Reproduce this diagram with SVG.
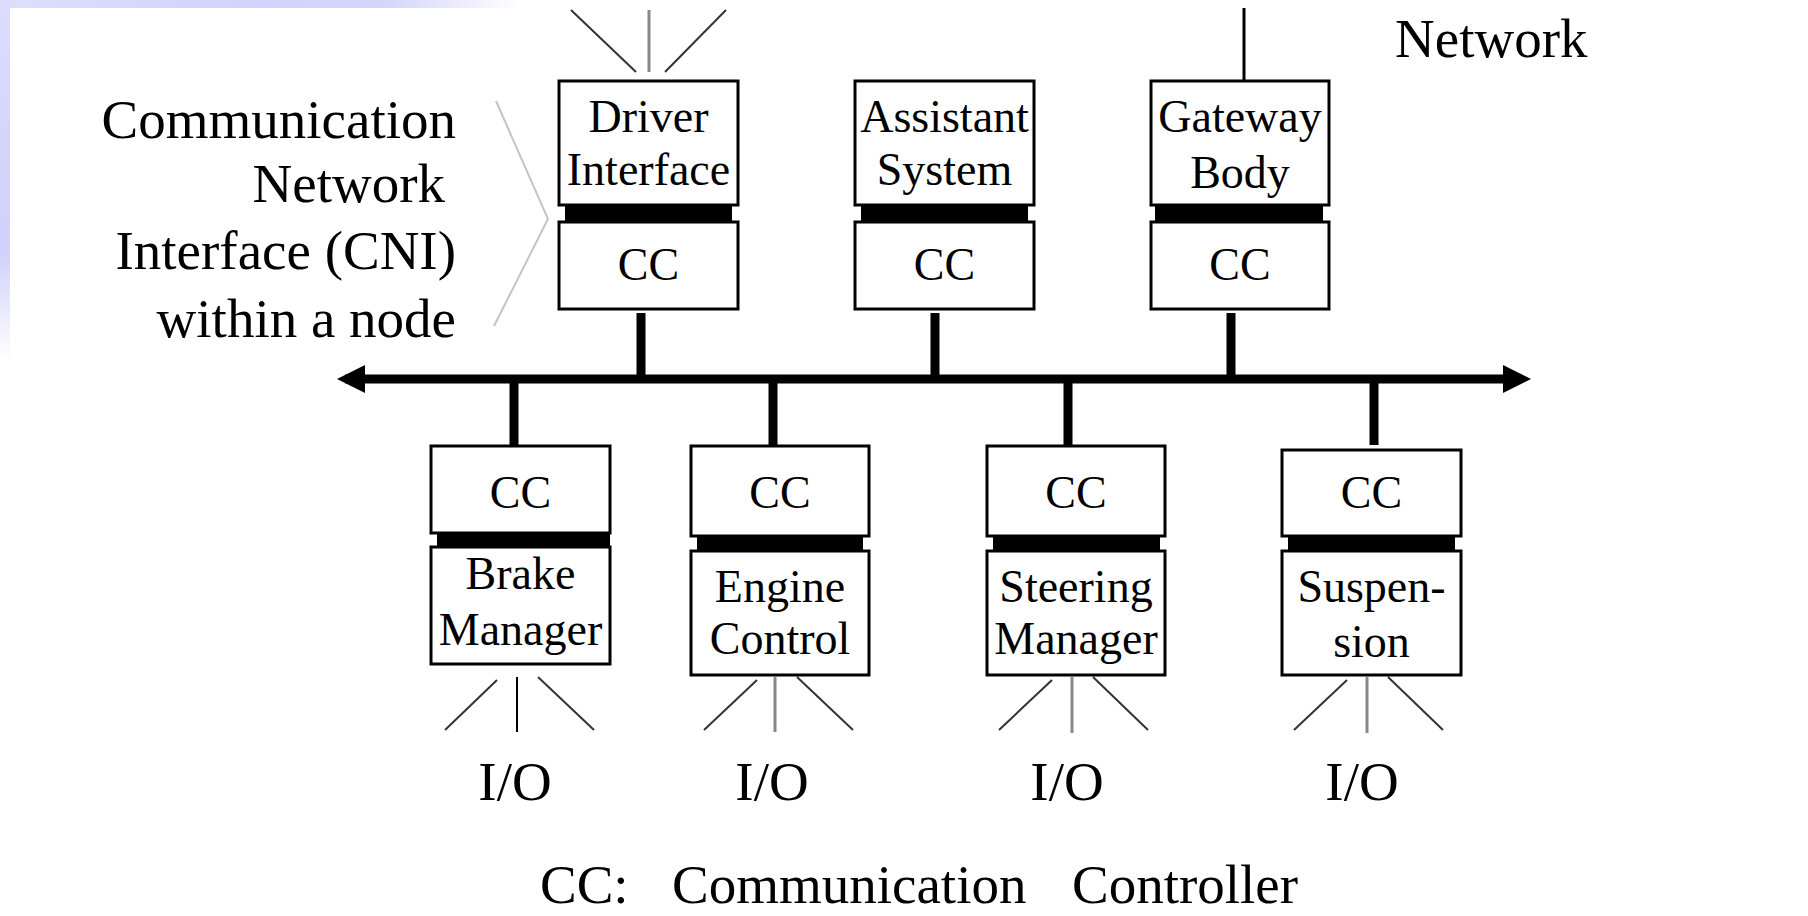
<svg xmlns="http://www.w3.org/2000/svg" width="1808" height="916" viewBox="0 0 1808 916">
<defs>
<linearGradient id="gTop" x1="0" y1="0" x2="1" y2="0">
<stop offset="0" stop-color="#dedefc"/>
<stop offset="0.5" stop-color="#d2d2fc"/>
<stop offset="0.75" stop-color="#d6d6fb"/>
<stop offset="1" stop-color="#ffffff"/>
</linearGradient>
<linearGradient id="gLeft" x1="0" y1="0" x2="0" y2="1">
<stop offset="0" stop-color="#dcdcfc"/>
<stop offset="0.7" stop-color="#d0d0fb"/>
<stop offset="1" stop-color="#ffffff"/>
</linearGradient>
<style>
.box{fill:#fff;stroke:#000;stroke-width:3}
.bar{fill:#000}
.stub{stroke:#000;stroke-width:9}
.t{font-family:"Liberation Serif","Times New Roman",serif;font-size:46px;fill:#000;text-anchor:middle}
.lbl{font-family:"Liberation Serif","Times New Roman",serif;font-size:55px;fill:#000}
.io{stroke:#333;stroke-width:2}
.iom{stroke:#888;stroke-width:3}
</style>
</defs>
<rect x="0" y="0" width="1808" height="916" fill="#fff"/>
<rect x="0" y="0" width="520" height="8" fill="url(#gTop)"/>
<rect x="0" y="0" width="10" height="360" fill="url(#gLeft)"/>

<g id="connectors">
<line x1="345" y1="379" x2="1515" y2="379" stroke="#000" stroke-width="9"/>
<polygon points="337,379 365,365 365,393" fill="#000"/>
<polygon points="1531,379 1503,365 1503,393" fill="#000"/>
<line class="stub" x1="641" y1="313" x2="641" y2="379"/>
<line class="stub" x1="935" y1="313" x2="935" y2="379"/>
<line class="stub" x1="1231" y1="313" x2="1231" y2="379"/>
<line class="stub" x1="514" y1="379" x2="514" y2="447"/>
<line class="stub" x1="773" y1="379" x2="773" y2="447"/>
<line class="stub" x1="1068" y1="379" x2="1068" y2="447"/>
<line class="stub" x1="1374" y1="379" x2="1374" y2="445"/>
<line x1="1244" y1="8" x2="1244" y2="81" stroke="#000" stroke-width="3"/>
<line class="io" x1="571" y1="10" x2="636" y2="72"/>
<line class="iom" x1="649" y1="10" x2="649" y2="72"/>
<line class="io" x1="726" y1="10" x2="665" y2="72"/>
<line class="io" x1="497" y1="680" x2="445" y2="730"/>
<line x1="517" y1="677" x2="517" y2="732" stroke="#000" stroke-width="2"/>
<line class="io" x1="538" y1="677" x2="594" y2="730"/>
<line class="io" x1="757" y1="680" x2="704" y2="730"/>
<line class="iom" x1="775" y1="677" x2="775" y2="732"/>
<line class="io" x1="797" y1="677" x2="853" y2="730"/>
<line class="io" x1="1052" y1="680" x2="999" y2="730"/>
<line class="iom" x1="1072" y1="677" x2="1072" y2="733"/>
<line class="io" x1="1093" y1="677" x2="1148" y2="730"/>
<line class="io" x1="1347" y1="680" x2="1294" y2="730"/>
<line class="iom" x1="1367" y1="677" x2="1367" y2="733"/>
<line class="io" x1="1388" y1="677" x2="1443" y2="730"/>
<polyline points="496,101 548,219 494,326" fill="none" stroke="#c4c4c4" stroke-width="2"/>
</g>

<g id="driver-interface">
<rect class="bar" x="565" y="204" width="167" height="19"/>
<rect class="box" x="559" y="81" width="179" height="124"/>
<rect class="box" x="559" y="222" width="179" height="87"/>
<text class="t" x="648.5" y="132">Driver</text>
<text class="t" x="648.5" y="185">Interface</text>
<text class="t" x="648.5" y="280">CC</text>
</g>
<g id="assistant-system">
<rect class="bar" x="861" y="204" width="167" height="19"/>
<rect class="box" x="855" y="81" width="179" height="124"/>
<rect class="box" x="855" y="222" width="179" height="87"/>
<text class="t" x="944.5" y="132">Assistant</text>
<text class="t" x="944.5" y="185">System</text>
<text class="t" x="944.5" y="280">CC</text>
</g>
<g id="gateway-body">
<rect class="bar" x="1155" y="204" width="168" height="19"/>
<rect class="box" x="1151" y="81" width="178" height="124"/>
<rect class="box" x="1151" y="222" width="178" height="87"/>
<text class="t" x="1240" y="132">Gateway</text>
<text class="t" x="1240" y="188">Body</text>
<text class="t" x="1240" y="280">CC</text>
</g>

<g id="brake-manager">
<rect class="bar" x="437" y="532" width="173" height="16"/>
<rect class="box" x="431" y="446" width="179" height="87"/>
<rect class="box" x="431" y="547" width="179" height="117"/>
<text class="t" x="520.5" y="508">CC</text>
<text class="t" x="520.5" y="589">Brake</text>
<text class="t" x="520.5" y="645">Manager</text>
</g>
<g id="engine-control">
<rect class="bar" x="697" y="535" width="166" height="17"/>
<rect class="box" x="691" y="446" width="178" height="90"/>
<rect class="box" x="691" y="551" width="178" height="124"/>
<text class="t" x="780" y="508">CC</text>
<text class="t" x="780" y="602">Engine</text>
<text class="t" x="780" y="654">Control</text>
</g>
<g id="steering-manager">
<rect class="bar" x="993" y="535" width="167" height="17"/>
<rect class="box" x="987" y="446" width="178" height="90"/>
<rect class="box" x="987" y="551" width="178" height="124"/>
<text class="t" x="1076" y="508">CC</text>
<text class="t" x="1076" y="602">Steering</text>
<text class="t" x="1076" y="654">Manager</text>
</g>
<g id="suspension">
<rect class="bar" x="1288" y="535" width="167" height="17"/>
<rect class="box" x="1282" y="450" width="179" height="86"/>
<rect class="box" x="1282" y="551" width="179" height="124"/>
<text class="t" x="1371.5" y="508">CC</text>
<text class="t" x="1371.5" y="602">Suspen-</text>
<text class="t" x="1371.5" y="657">sion</text>
</g>

<g id="labels">
<text class="lbl" text-anchor="end" x="456" y="138">Communication</text>
<text class="lbl" text-anchor="end" x="445" y="202">Network</text>
<text class="lbl" text-anchor="end" x="456" y="269">Interface (CNI)</text>
<text class="lbl" text-anchor="end" x="456" y="337">within a node</text>
<text class="lbl" x="1395" y="57">Network</text>
<text class="lbl" text-anchor="middle" x="515" y="800">I/O</text>
<text class="lbl" text-anchor="middle" x="772" y="800">I/O</text>
<text class="lbl" text-anchor="middle" x="1067" y="800">I/O</text>
<text class="lbl" text-anchor="middle" x="1362" y="800">I/O</text>
<text class="lbl" y="903"><tspan x="540">CC:</tspan><tspan x="672">Communication</tspan><tspan x="1072">Controller</tspan></text>
</g>
</svg>
